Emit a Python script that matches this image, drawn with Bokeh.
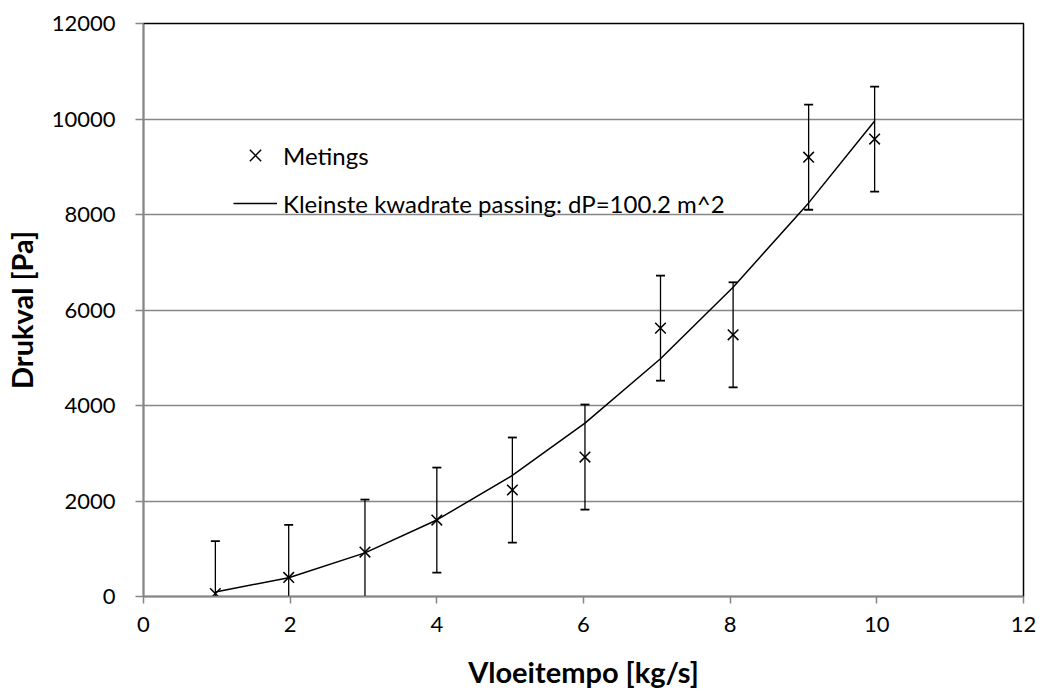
from bokeh.plotting import figure
from bokeh.models import FixedTicker, Legend, LegendItem
from bokeh.embed import file_html
from bokeh.resources import INLINE

# Data
flow = [0.98, 1.98, 3.02, 4.0, 5.03, 6.02, 7.05, 8.04, 9.07, 9.97]        # Vloeitempo [kg/s]
drop = [60, 400, 930, 1600, 2230, 2920, 5620, 5480, 9200, 9580]           # Drukval [Pa]
err = [1100, 1100, 1100, 1100, 1100, 1100, 1100, 1100, 1100, 1100]       # error bar half-length
fit = [96, 393, 914, 1603, 2535, 3631, 4980, 6477, 8243, 9960]           # least squares fit dP=100.2 m^2
x_ticks = [0, 2, 4, 6, 8, 10, 12]
y_ticks = [0, 2000, 4000, 6000, 8000, 10000, 12000]

FONT = "Lato"
GRAY = "#868686"

p = figure(width=1042, height=691, output_backend="svg", toolbar_location=None,
           x_range=(0, 12), y_range=(0, 12000),
           min_border_left=140, min_border_right=19, min_border_top=23, min_border_bottom=95)

p.outline_line_color = "black"
p.outline_line_width = 1.5
p.xgrid.grid_line_color = None
p.ygrid.grid_line_color = GRAY
p.ygrid.grid_line_width = 1.5

p.xaxis.ticker = FixedTicker(ticks=x_ticks)
p.yaxis.ticker = FixedTicker(ticks=y_ticks)
for ax in (p.xaxis[0], p.yaxis[0]):
    ax.axis_line_color = GRAY
    ax.axis_line_width = 1.5
    ax.major_tick_line_color = GRAY
    ax.major_tick_line_width = 1.5
    ax.major_tick_in = 0
    ax.minor_tick_line_color = None
    ax.major_label_text_font = FONT
    ax.major_label_text_font_size = "22px"
    ax.major_label_text_color = "black"
    ax.axis_label_text_font = FONT
    ax.axis_label_text_font_size = "29px"
    ax.axis_label_text_font_style = "bold"
    ax.axis_label_text_color = "black"

p.xaxis.major_tick_out = 7
p.yaxis.major_tick_out = 8
p.xaxis.axis_label = "Vloeitempo [kg/s]"
p.yaxis.axis_label = "Drukval [Pa]"
p.xaxis.major_label_standoff = 13
p.xaxis.axis_label_standoff = 19
p.yaxis.major_label_standoff = 20
p.yaxis.axis_label_standoff = 10

# error bars
lower = [d - e for d, e in zip(drop, err)]
upper = [d + e for d, e in zip(drop, err)]
p.segment(x0=flow, y0=lower, x1=flow, y1=upper, line_color="black", line_width=1.3)
p.scatter(x=flow, y=upper, marker="dash", size=9, line_color="black", line_width=1.8)
p.scatter(x=flow, y=lower, marker="dash", size=9, line_color="black", line_width=1.8)

# fit line
r_line = p.line(x=flow, y=fit, line_color="black", line_width=1.5)
# measurements
r_pts = p.scatter(x=flow, y=drop, marker="x", size=15, line_color="black", line_width=1.5)

legend = Legend(items=[LegendItem(label="Metings", renderers=[r_pts]),
                       LegendItem(label="Kleinste kwadrate passing: dP=100.2 m^2", renderers=[r_line])],
                location=(90, 373), orientation="vertical")
legend.background_fill_alpha = 0
legend.border_line_color = None
legend.padding = 0
legend.margin = 0
legend.spacing = 8
legend.glyph_width = 44
legend.glyph_height = 40
legend.label_height = 40
legend.label_standoff = 6
legend.label_text_font = FONT
legend.label_text_font_size = "24px"
legend.label_text_color = "black"
p.add_layout(legend)

open("out.html", "w").write(file_html(p, INLINE))
